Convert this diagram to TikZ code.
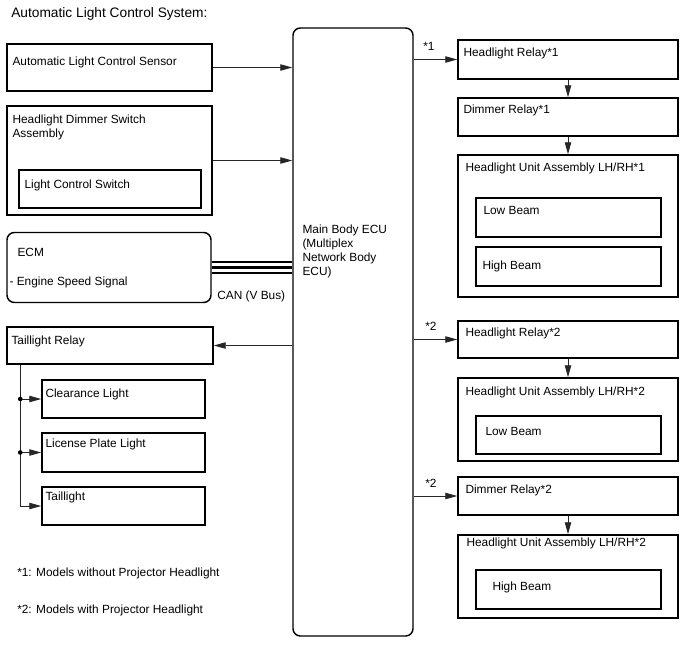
\documentclass[tikz,border=0pt]{standalone}
\usepackage{fontspec}
\setmainfont{Liberation Sans}
\usetikzlibrary{arrows.meta}

\tikzset{
    box/.style={draw, line width=1.1pt, inner sep=0pt},
    rbox/.style={box, rounded corners=5.5pt},
    wide/.style={minimum width=165pt},
    txt/.style={anchor=north west, inner sep=0pt, align=left,
        font=\fontsize{8.9}{10.5}\selectfont},
    arr/.style={line width=0.7pt, draw=black!85, -{Triangle[length=9pt,width=4.8pt]}},
    bus/.style={line width=1.6pt},
    dot/.style={circle, fill, inner sep=0pt, minimum size=3.5pt}
}

\begin{document}
\begin{tikzpicture}[x=0.75pt, y=-0.75pt]
    \useasboundingbox (0,0) rectangle (688,658);

    \node[txt, font=\fontsize{10.3}{12}\selectfont] (title) at (11,7) {Automatic Light Control System:};

    % inputs
    \node[box, minimum width=153.75pt, minimum height=35.25pt] (sensor) at (109.5,67.5) {};
    \node[box, minimum width=153.75pt, minimum height=81.75pt] (dimsw)  at (109.5,160.5) {};
    \node[box, minimum width=136.5pt,  minimum height=28.5pt]  (lcs)    at (110,189) {};
    \node[rbox, minimum width=153pt,   minimum height=52.5pt]  (ecm)    at (109,267.5) {};
    \node[txt] (sensor-t) at ([shift={(6,13)}]sensor.north west) {Automatic Light Control Sensor};
    \node[txt] (dimsw-t)  at ([shift={(6,9)}]dimsw.north west) {Headlight Dimmer Switch\\Assembly};
    \node[txt] (lcs-t)    at ([shift={(6,10)}]lcs.north west) {Light Control Switch};
    \node[txt] (ecm-t)    at ([shift={(11,16)}]ecm.north west) {ECM};
    \node[txt] (ecm-s)    at ([shift={(3,45)}]ecm.north west) {- Engine Speed Signal};

    % ECU
    \node[rbox, minimum width=90pt, minimum height=456pt] (ecu) at (353,332) {};
    \node[txt] (ecu-t) at ([shift={(10,197)}]ecu.north west) {Main Body ECU\\(Multiplex\\Network Body\\ECU)};

    % taillight side
    \node[box, minimum width=154.5pt, minimum height=27.75pt] (trelay)  at (110,345.5) {};
    \node[box, minimum width=122.25pt, minimum height=28.5pt] (clear)   at (123.5,399) {};
    \node[box, minimum width=122.25pt, minimum height=29.25pt] (license) at (123.5,452.5) {};
    \node[box, minimum width=122.25pt, minimum height=28.5pt] (tail)    at (123.5,506) {};
    \node[txt] (trelay-t)  at ([shift={(5,9)}]trelay.north west) {Taillight Relay};
    \node[txt] (clear-t)   at ([shift={(4,9)}]clear.north west) {Clearance Light};
    \node[txt] (license-t) at ([shift={(4,6)}]license.north west) {License Plate Light};
    \node[txt] (tail-t)    at ([shift={(4,5)}]tail.north west) {Taillight};

    % headlight side
    \node[box, wide, minimum height=29.25pt] (hr1) at (568,59.5) {};
    \node[box, wide, minimum height=28.5pt]  (dr1) at (568,117) {};
    \node[box, wide, minimum height=106.5pt] (hu1) at (568,226) {};
    \node[box, minimum width=138.75pt, minimum height=29.25pt] (lb1) at (568.5,217.5) {};
    \node[box, minimum width=138.75pt, minimum height=29.25pt] (hb1) at (568.5,266.5) {};
    \node[box, wide, minimum height=27.75pt] (hr2) at (568,339.5) {};
    \node[box, wide, minimum height=62.25pt] (hu2) at (568,419.5) {};
    \node[box, minimum width=138.75pt, minimum height=28.5pt]  (lb2) at (568.5,435) {};
    \node[box, wide, minimum height=28.5pt]  (dr2) at (568,496) {};
    \node[box, wide, minimum height=62.25pt] (hu3) at (568,576.5) {};
    \node[box, minimum width=138.75pt, minimum height=29.25pt] (hb2) at (568.5,589.5) {};
    \node[txt] (hr1-t) at ([shift={(6,8)}]hr1.north west) {Headlight Relay*1};
    \node[txt] (dr1-t) at ([shift={(6,7)}]dr1.north west) {Dimmer Relay*1};
    \node[txt] (hu1-t) at ([shift={(8,8)}]hu1.north west) {Headlight Unit Assembly LH/RH*1};
    \node[txt] (lb1-t) at ([shift={(8,9)}]lb1.north west) {Low Beam};
    \node[txt] (hb1-t) at ([shift={(7,14)}]hb1.north west) {High Beam};
    \node[txt] (hr2-t) at ([shift={(8,7)}]hr2.north west) {Headlight Relay*2};
    \node[txt] (hu2-t) at ([shift={(8,9)}]hu2.north west) {Headlight Unit Assembly LH/RH*2};
    \node[txt] (lb2-t) at ([shift={(10,12)}]lb2.north west) {Low Beam};
    \node[txt] (dr2-t) at ([shift={(8,8)}]dr2.north west) {Dimmer Relay*2};
    \node[txt] (hu3-t) at ([shift={(9,3)}]hu3.north west) {Headlight Unit Assembly LH/RH*2};
    \node[txt] (hb2-t) at ([shift={(17,12)}]hb2.north west) {High Beam};

    % connections
    \draw[arr] (sensor.east) -- (sensor.east -| ecu.west);
    \draw[arr] (dimsw.east) -- (dimsw.east -| ecu.west);
    \foreach \s in {-4.4,0,4.4}
        \draw[bus] ([yshift=\s pt]ecm.east) -- ([yshift=\s pt]ecm.east -| ecu.west);
    \node[txt] (can) at (217,291) {CAN (V Bus)};

    \draw[arr] (trelay.east -| ecu.west) -- (trelay.east);
    \coordinate (tap) at ([xshift=10.5pt]trelay.south west);
    \draw[arr] (tap) |- (tail.west);
    \draw[arr] (tap |- clear.west) -- (clear.west);
    \draw[arr] (tap |- license.west) -- (license.west);
    \node[dot] (j1) at (tap |- clear.west) {};
    \node[dot] (j2) at (tap |- license.west) {};

    \draw[arr] (hr1.west -| ecu.east) -- (hr1.west);
    \draw[arr] (hr1.south) -- (dr1.north);
    \draw[arr] (dr1.south) -- (hu1.north);
    \draw[arr] (hr2.west -| ecu.east) -- (hr2.west);
    \draw[arr] (hr2.south) -- (hu2.north);
    \draw[arr] (dr2.west -| ecu.east) -- (dr2.west);
    \draw[arr] (dr2.south) -- (hu3.north);
    \node[txt] (m1) at (423,42)  {*1};
    \node[txt] (m2) at (425,322) {*2};
    \node[txt] (m3) at (425,479) {*2};

    % notes
    \node[txt] (note1) at (17,568) {*1: Models without Projector Headlight};
    \node[txt] (note2) at (17,605) {*2: Models with Projector Headlight};
\end{tikzpicture}
\end{document}
